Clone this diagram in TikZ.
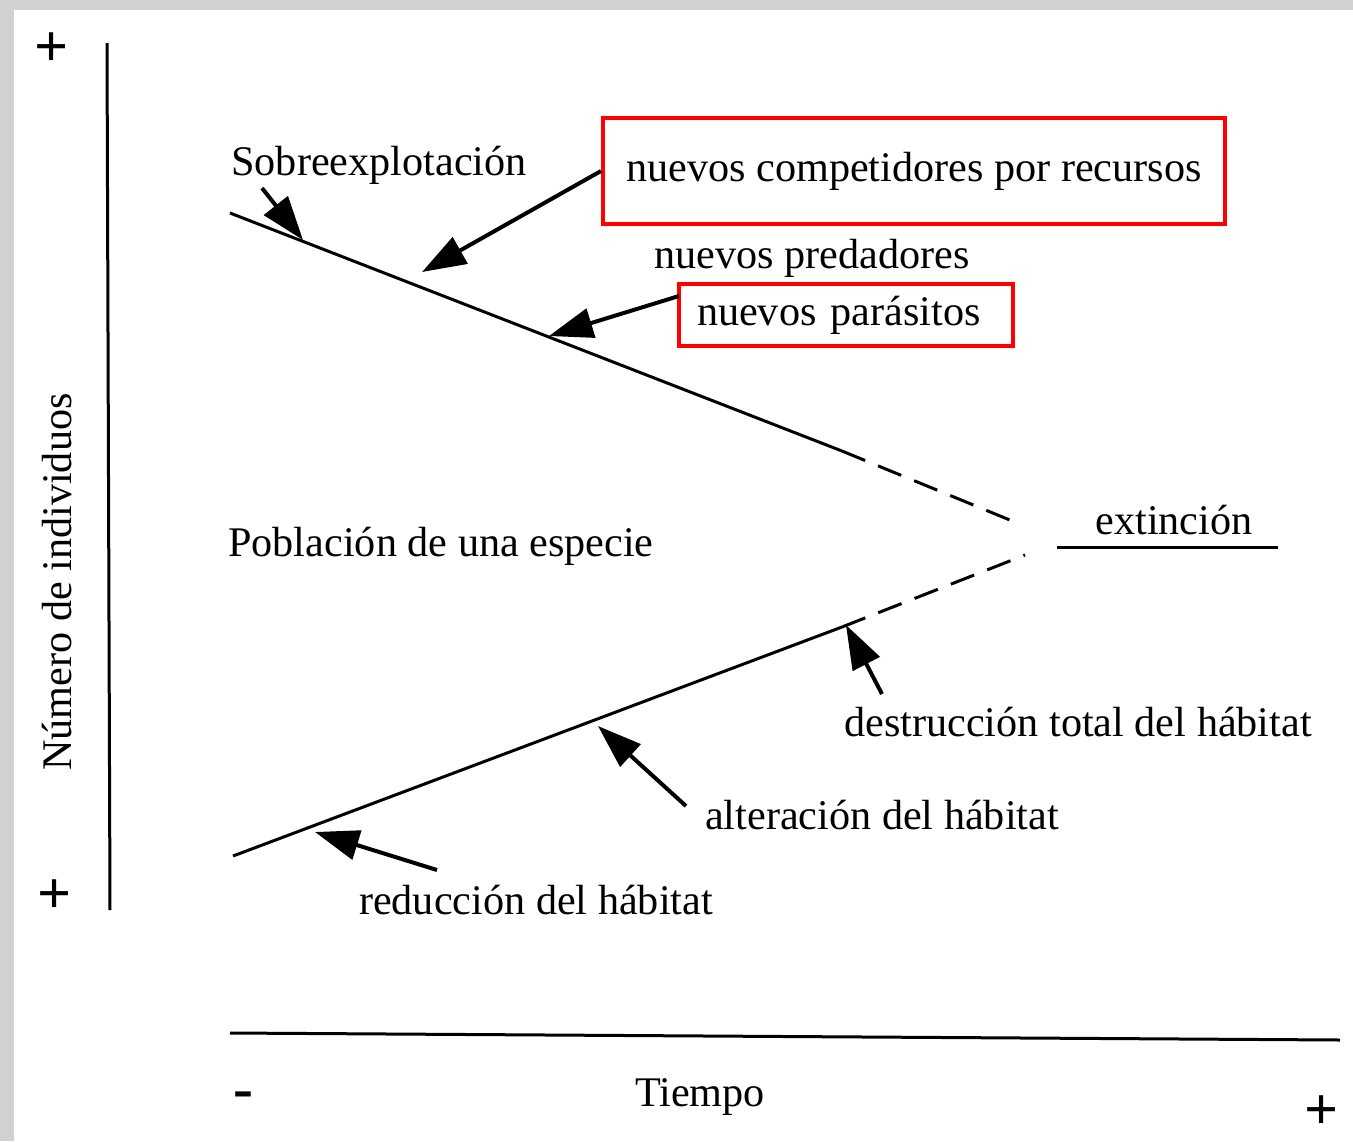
\documentclass[tikz,border=0pt]{standalone}
\usepackage{fontspec}
\setmainfont{Liberation Serif}
\usetikzlibrary{arrows.meta}

\newlength{\du}
\setlength{\du}{0.01cm}
\definecolor{framecolor}{rgb}{0.820000, 0.820000, 0.820000}
\definecolor{boxcolor}{rgb}{1.000000, 0.000000, 0.000000}
\tikzset{
	lbl/.style={font=\fontsize{12}{14}\selectfont, inner sep=0pt},
	sign/.style={font=\fontsize{17}{17}\selectfont\bfseries, inner sep=0pt},
	trend/.style={line width=3\du},
	gone/.style={line width=3\du, dash pattern=on 25\du off 14\du},
	factor/.style={line width=4\du, -{Triangle[length=12.5pt,width=8.5pt]}},
	redbox/.style={lbl, draw=boxcolor, line width=4\du}
}

\begin{document}
\begin{tikzpicture}[x=\du,y=-\du]
	\useasboundingbox (0,0) rectangle (1353,1141);
	% shadow frame
	\fill[framecolor] (0,0) rectangle (14,1141);
	\fill[framecolor] (0,0) rectangle (1353,10);
	% axes
	\node[sign] (yplus) at (52,50) {+};
	\node[sign] (yminus) at (55,897) {+};
	\node[lbl, rotate=90] (ylabel) at (57,582) {Número de individuos};
	\coordinate (ytop) at (107,43);
	\coordinate (ybot) at (110,910);
	\draw[trend] (ytop) -- (ybot);
	\coordinate (xleft) at (230,1033);
	\coordinate (xright) at (1340,1040);
	\draw[trend] (xleft) -- (xright);
	\node[sign] (xminus) at (243,1100) {-};
	\node[lbl] (xlabel) at (700,1097) {Tiempo};
	\node[sign] (xplus) at (1322,1113) {+};
	% population trends
	\coordinate (topstart) at (230,213);
	\coordinate (topmid) at (842,451);
	\coordinate (topend) at (1022,525);
	\coordinate (botstart) at (233,856);
	\coordinate (botmid) at (842,627);
	\coordinate (botend) at (1025,555);
	\draw[trend] (topstart) -- (topmid);
	\draw[gone] (topmid) -- (topend);
	\draw[trend] (botstart) -- (botmid);
	\draw[gone] (botmid) -- (botend);
	\node[lbl] (poblacion) at (441,546) {Población de una especie};
	\node[lbl] (extincion) at (1174,520) {extinción};
	\coordinate (extleft) at (1057,547);
	\coordinate (extright) at (1278,547);
	\draw[trend] (extleft) -- (extright);
	% factors above
	\node[lbl] (sobre) at (379,165) {Sobreexplotación};
	\coordinate (sobretail) at (262,188);
	\coordinate (sobretip) at (303,240);
	\draw[factor] (sobretail) -- (sobretip);
	\node[redbox, minimum width=622\du, minimum height=106\du] (competidores) at (914,171) {nuevos competidores por recursos};
	\coordinate (comptip) at (422,272);
	\draw[factor] (competidores.west) -- (comptip);
	\node[lbl] (predadores) at (812,258) {nuevos predadores};
	\node[redbox, inner xsep=18\du, text width=298\du, align=left, minimum height=62\du] (parasitos) at (846,315) {nuevos parásitos};
	\coordinate (parastail) at (679,296);
	\coordinate (parastip) at (549,336);
	\draw[factor] (parastail) -- (parastip);
	% factors below
	\node[lbl] (destruccion) at (1078,722) {destrucción total del hábitat};
	\coordinate (destail) at (882,694);
	\coordinate (destip) at (846,625);
	\draw[factor] (destail) -- (destip);
	\node[lbl] (alteracion) at (882,815) {alteración del hábitat};
	\coordinate (altail) at (686,806);
	\coordinate (altip) at (598,726);
	\draw[factor] (altail) -- (altip);
	\node[lbl] (reduccion) at (536,900) {reducción del hábitat};
	\coordinate (redtail) at (437,870);
	\coordinate (redtip) at (315,832);
	\draw[factor] (redtail) -- (redtip);
\end{tikzpicture}
\end{document}
